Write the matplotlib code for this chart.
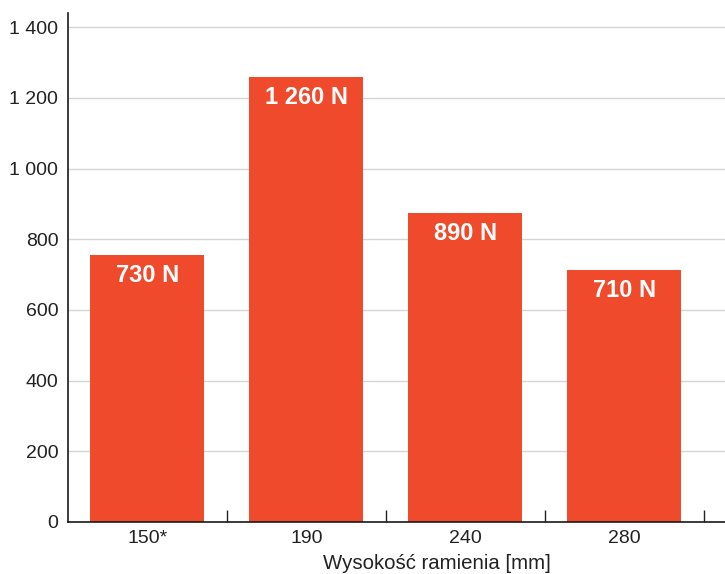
import matplotlib
matplotlib.use('Agg')
import matplotlib.pyplot as plt
from matplotlib.ticker import FuncFormatter

plt.rcParams['font.family'] = ['Liberation Sans', 'DejaVu Sans']

# Data
categories = ['150*', '190', '240', '280']
values = [755, 1258, 874, 712]
labels = ['730 N', '1 260 N', '890 N', '710 N']

bar_color = '#EF4A2B'

fig = plt.figure(figsize=(7.25, 5.74), dpi=100)
ax = fig.add_axes([68 / 725, 1 - 522 / 574, 1 - 68 / 725, (522 - 13) / 574])

x = list(range(len(categories)))
bars = ax.bar(x, values, width=0.717, color=bar_color, zorder=2)

# value labels inside bars
for b, lab in zip(bars, labels):
    ax.annotate(lab, (b.get_x() + b.get_width() / 2, b.get_height()),
                xytext=(0, -14.5), textcoords='offset points',
                ha='center', va='center', color='white',
                fontsize=17, fontweight='bold', zorder=3)

ax.set_xlim(-0.5, 3.635)
ax.set_ylim(0, 1440)

# y axis
ax.set_yticks(range(0, 1401, 200))
ax.yaxis.set_major_formatter(FuncFormatter(lambda v, p: f'{int(v):,}'.replace(',', ' ')))
ax.tick_params(axis='y', length=0, pad=7, labelsize=14, labelcolor='#222222')
ax.grid(axis='y', color='#d4d4d4', linewidth=1, zorder=0)

# x axis: labels at bar centres, tick marks between groups
ax.set_xticks(x)
ax.set_xticklabels(categories)
ax.tick_params(axis='x', which='major', length=0, pad=6, labelsize=14, labelcolor='#222222')
ax.set_xticks([0.5, 1.5, 2.5, 3.5], minor=True)
ax.tick_params(axis='x', which='minor', direction='in', length=8.5, width=1, color='#222222')

ax.set_xlabel('Wysokość ramienia [mm]', fontsize=14.7, color='#222222')
ax.xaxis.set_label_coords(0.562, -0.0635)

for s in ['top', 'right']:
    ax.spines[s].set_visible(False)
for s in ['left', 'bottom']:
    ax.spines[s].set_color('#1a1a1a')
    ax.spines[s].set_linewidth(1.2)
    ax.spines[s].set_zorder(4)

fig.savefig('out.png', dpi=100)
